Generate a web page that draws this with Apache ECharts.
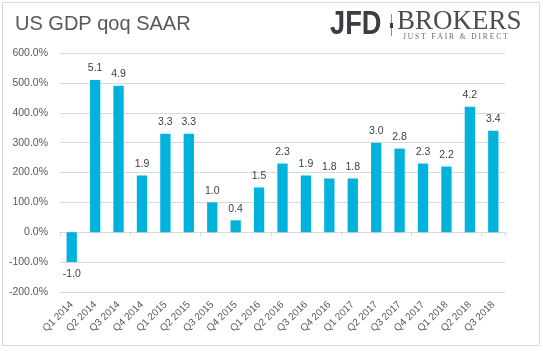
<!DOCTYPE html>
<html>
<head>
<meta charset="utf-8">
<script src="https://cdn.jsdelivr.net/npm/echarts@6/dist/echarts.min.js"></script>
<style>
  html, body { margin: 0; padding: 0; background: #fff; }
  #chart { width: 543px; height: 351px; }
</style>
</head>
<body>
<div id="chart"></div>
<script>
const quarters = ['Q1 2014', 'Q2 2014', 'Q3 2014', 'Q4 2014', 'Q1 2015', 'Q2 2015', 'Q3 2015', 'Q4 2015',
  'Q1 2016', 'Q2 2016', 'Q3 2016', 'Q4 2016', 'Q1 2017', 'Q2 2017', 'Q3 2017', 'Q4 2017',
  'Q1 2018', 'Q2 2018', 'Q3 2018'];
const gdp = [-1.0, 5.1, 4.9, 1.9, 3.3, 3.3, 1.0, 0.4, 1.5, 2.3, 1.9, 1.8, 1.8, 3.0, 2.8, 2.3, 2.2, 4.2, 3.4];
const yTicks = [-200, 600, 100]; // min, max, step (percent)

const font = 'Liberation Sans';
const chart = echarts.init(document.getElementById('chart'));

// chart plots gdp*100 as percent, labels show the raw number
const barData = gdp.map(v => ({
    value: Math.round(v * 1000) / 10,
    label: { position: v < 0 ? 'bottom' : 'top' }
}));

chart.setOption({
    animation: false,
    title: {
        text: 'US GDP qoq SAAR',
        left: 10,
        top: 9,
        textStyle: { fontFamily: font, fontSize: 20, fontWeight: 'normal', color: '#595959' }
    },
    grid: { left: 60, right: 38, top: 53, bottom: 59 },
    xAxis: [
        {
            type: 'category',
            data: quarters,
            position: 'bottom',
            axisLine: { show: false, onZero: false },
            axisTick: { show: false },
            axisLabel: { rotate: 45, fontFamily: font, fontSize: 10, color: '#595959', margin: 11, interval: 0 }
        },
        {
            type: 'category',
            data: quarters,
            position: 'top',
            axisLine: { show: true, onZero: true, lineStyle: { color: '#d9d9d9' } },
            axisTick: { show: true, inside: true, length: 4, lineStyle: { color: '#d9d9d9' } },
            axisLabel: { show: false }
        }
    ],
    yAxis: {
        type: 'value',
        min: yTicks[0],
        max: yTicks[1],
        interval: yTicks[2],
        axisLine: { show: false },
        axisTick: { show: false },
        splitLine: { lineStyle: { color: '#d9d9d9' } },
        axisLabel: {
            fontFamily: font, fontSize: 10.5, color: '#595959', margin: 12,
            formatter: v => v.toFixed(1) + '%'
        }
    },
    series: [{
        type: 'bar',
        xAxisIndex: 0,
        data: barData,
        barWidth: '44%',
        itemStyle: { color: '#00b2dc' },
        label: {
            show: true,
            distance: 6,
            fontFamily: font,
            fontSize: 10.5,
            color: '#404040',
            formatter: p => (p.value / 100).toFixed(1)
        }
    }],
    graphic: [
        {
            type: 'rect', silent: true, z: -1,
            shape: { x: 2.5, y: 2.5, width: 537, height: 343 },
            style: { fill: 'none', stroke: '#d9d9d9', lineWidth: 1 }
        },
        {
            type: 'text', x: 330, y: 8, scaleX: 0.8,
            style: {
                text: 'JFD', fontFamily: font, fontWeight: 'bold',
                fontSize: 34, fill: '#3a3d42'
            }
        },
        {
            type: 'rect', silent: true,
            shape: { x: 391, y: 14, width: 1, height: 22 },
            style: { fill: '#8a8c90' }
        },
        {
            type: 'rect', silent: true,
            shape: { x: 390, y: 23, width: 3, height: 5 },
            style: { fill: '#3a3d42' }
        },
        {
            type: 'text', x: 397, y: 8,
            style: {
                text: 'BROKERS', fontFamily: 'Liberation Serif', fontSize: 27, fill: '#4a4d52'
            }
        },
        {
            type: 'text', x: 403, y: 33,
            style: {
                text: 'J U S T   F A I R   &   D I R E C T', fontFamily: 'Liberation Serif', fontSize: 7.5, fill: '#6a6d72'
            }
        }
    ]
});
</script>
</body>
</html>
